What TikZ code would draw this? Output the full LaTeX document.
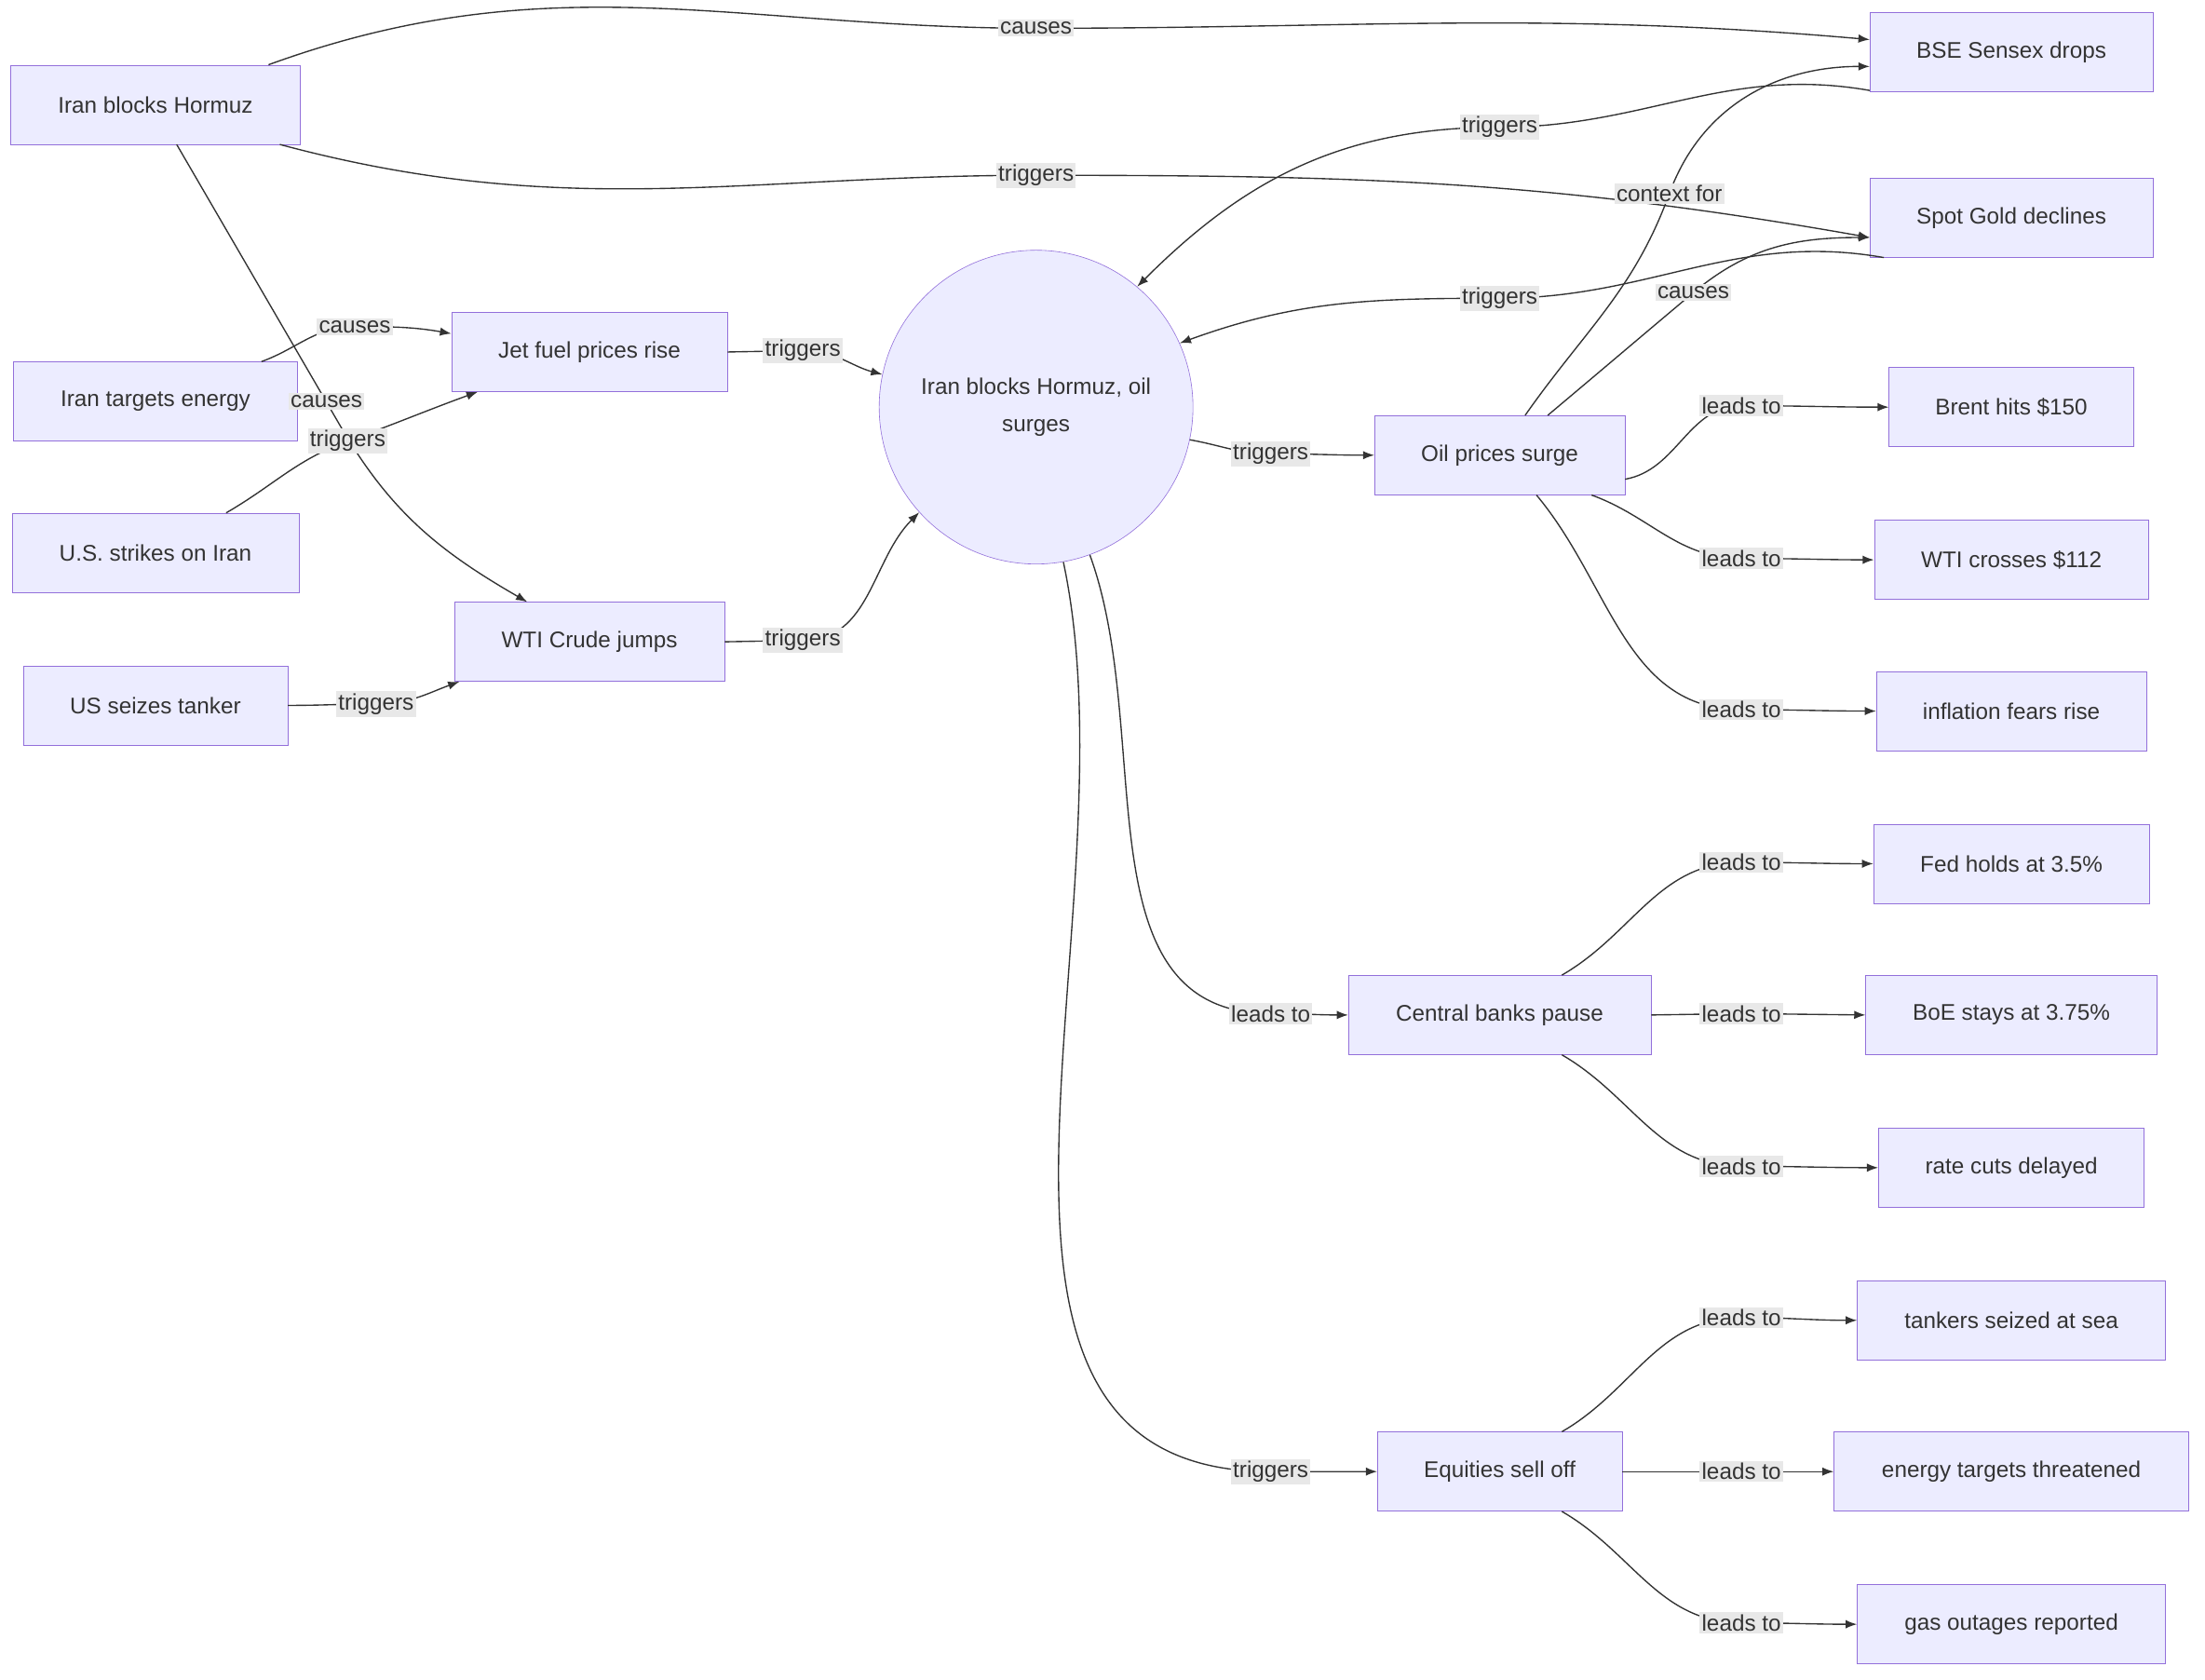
\documentclass[tikz,border=0pt]{standalone}
\usepackage{fontspec}
\setmainfont{Liberation Sans}
\usetikzlibrary{arrows.meta}
\definecolor{nf}{HTML}{ECECFF}
\definecolor{nd}{HTML}{9370DB}
\definecolor{lf}{HTML}{E8E8E8}
\definecolor{tx}{HTML}{333333}
\begin{document}
\begin{tikzpicture}[x=1pt,y=-1pt,
 box/.style={draw=nd,fill=nf,minimum height=56pt,inner sep=0pt,text=tx,font=\fontsize{16}{19}\selectfont},
 lab/.style={fill=lf,inner sep=1.5pt,text=tx,font=\fontsize{16}{19}\selectfont},
 e/.style={draw=tx,line width=0.9pt,-{Latex[length=8pt,width=6pt]}}]
\useasboundingbox[fill=white] (0,0) rectangle (1560,1188);
\node[box,minimum width=205pt] (A) at (110,74) {Iran blocks Hormuz};
\node[box,minimum width=201pt] (B) at (110,284) {Iran targets energy};
\node[box,minimum width=203pt] (C) at (110,391) {U.S. strikes on Iran};
\node[box,minimum width=187pt] (D) at (110,499) {US seizes tanker};
\node[box,minimum width=195pt] (E) at (417,249) {Jet fuel prices rise};
\node[box,minimum width=191pt] (F) at (417,454) {WTI Crude jumps};
\node[draw=nd,fill=nf,circle,minimum size=222pt,inner sep=0pt,text=tx,align=center,font=\fontsize{16}{26}\selectfont] (O) at (733,288) {Iran blocks Hormuz, oil\\surges};
\node[box,minimum width=177pt] (G) at (1061,322) {Oil prices surge};
\node[box,minimum width=214pt] (H) at (1061,718) {Central banks pause};
\node[box,minimum width=173pt] (I) at (1061,1041) {Equities sell off};
\node[box,minimum width=200pt] (R1) at (1423,37) {BSE Sensex drops};
\node[box,minimum width=200pt] (R2) at (1423,154) {Spot Gold declines};
\node[box,minimum width=173pt] (R3) at (1423,288) {Brent hits \$150};
\node[box,minimum width=194pt] (R4) at (1423,396) {WTI crosses \$112};
\node[box,minimum width=191pt] (R5) at (1423,503) {inflation fears rise};
\node[box,minimum width=195pt] (R6) at (1423,611) {Fed holds at 3.5\%};
\node[box,minimum width=206pt] (R7) at (1423,718) {BoE stays at 3.75\%};
\node[box,minimum width=188pt] (R8) at (1423,826) {rate cuts delayed};
\node[box,minimum width=218pt] (R9) at (1423,934) {tankers seized at sea};
\node[box,minimum width=251pt] (R10) at (1423,1041) {energy targets threatened};
\node[box,minimum width=218pt] (R11) at (1423,1149) {gas outages reported};
% edges
\draw[e] ([xshift=80pt]A.north) to[out=20,in=180] (733,20) to[out=0,in=175] ([yshift=9pt]R1.west);
\draw[e] ([xshift=88pt]A.south) to[out=-15,in=180] (733,124) to[out=0,in=170] ([yshift=-14pt]R2.west);
\draw[e] ([xshift=15pt]A.south) -- (240,300) to[out=-60,in=150] ([xshift=-44pt]F.north);
\draw[e] ([xshift=75pt]B.north) to[out=20,in=180] (251,231) to[out=0,in=170] ([yshift=13pt]E.west);
\draw[e] ([xshift=50pt]C.north) to[out=30,in=200] (246,312) to[out=20,in=200] ([xshift=-79pt]E.south);
\draw[e] (D.east) to[out=0,in=180] (266,498) to[out=0,in=200] ([xshift=-92pt]F.south);
\draw[e] (E.east) -- (568,248) to[out=0,in=165] (O.168);
\draw[e] (F.east) -- (568,453) to[out=0,in=225] (O.222);
\draw[e] ([yshift=-27pt]R1.west) to[out=170,in=0] (1061,90) to[out=180,in=45] (O.50);
\draw[e] ([xshift=10pt]R2.south west) to[out=170,in=0] (1061,211) to[out=180,in=20] (O.24);
\draw[e] ([xshift=18pt]G.north) to[out=55,in=250] (1181,137) to[out=70,in=180] ([yshift=-10pt]R1.west);
\draw[e] ([xshift=34pt]G.north) to[out=40,in=220] (1198,207) to[out=40,in=180] ([yshift=-14pt]R2.west);
\draw[e] (O.-12) to[out=-10,in=180] (899,321) to[out=0,in=180] (G.west);
\draw[e] ([yshift=-17pt]G.east) to[out=10,in=180] (1232,287) to[out=0,in=180] (R3.west);
\draw[e] ([xshift=65pt]G.south) to[out=-20,in=180] (1232,395) to[out=0,in=180] (R4.west);
\draw[e] ([xshift=26pt]G.south) to[out=-50,in=180] (1232,502) to[out=0,in=180] (R5.west);
\draw[e] (O.-70) to[out=-70,in=180] (899,717) to[out=0,in=180] (H.west);
\draw[e] (O.-80) to[out=-78,in=180] (899,1041) to[out=0,in=180] (I.west);
\draw[e] ([xshift=44pt]H.north) to[out=30,in=180] (1232,610) to[out=0,in=180] (R6.west);
\draw[e] (H.east) -- (1232,717) -- (R7.west);
\draw[e] ([xshift=44pt]H.south) to[out=-30,in=180] (1232,825) to[out=0,in=180] (R8.west);
\draw[e] ([xshift=44pt]I.north) to[out=30,in=180] (1232,932) to[out=0,in=180] (R9.west);
\draw[e] (I.east) -- (1232,1041) -- (R10.west);
\draw[e] ([xshift=44pt]I.south) to[out=-30,in=180] (1232,1148) to[out=0,in=180] (R11.west);
% labels
\node[lab] (l1) at (733,20) {causes};
\node[lab] (l2) at (733,124) {triggers};
\node[lab] (l3) at (231,284) {causes};
\node[lab] (l4) at (251,231) {causes};
\node[lab] (l5) at (246,312) {triggers};
\node[lab] (l6) at (266,498) {triggers};
\node[lab] (l7) at (568,248) {triggers};
\node[lab] (l8) at (568,453) {triggers};
\node[lab] (l9) at (1061,90) {triggers};
\node[lab] (l10) at (1061,211) {triggers};
\node[lab] (l11) at (1181,137) {context for};
\node[lab] (l12) at (1198,207) {causes};
\node[lab] (l13) at (899,321) {triggers};
\node[lab] (l14) at (1232,287) {leads to};
\node[lab] (l15) at (1232,395) {leads to};
\node[lab] (l16) at (1232,502) {leads to};
\node[lab] (l17) at (899,717) {leads to};
\node[lab] (l18) at (899,1041) {triggers};
\node[lab] (l19) at (1232,610) {leads to};
\node[lab] (l20) at (1232,717) {leads to};
\node[lab] (l21) at (1232,825) {leads to};
\node[lab] (l22) at (1232,932) {leads to};
\node[lab] (l23) at (1232,1041) {leads to};
\node[lab] (l24) at (1232,1148) {leads to};
\end{tikzpicture}
\end{document}
